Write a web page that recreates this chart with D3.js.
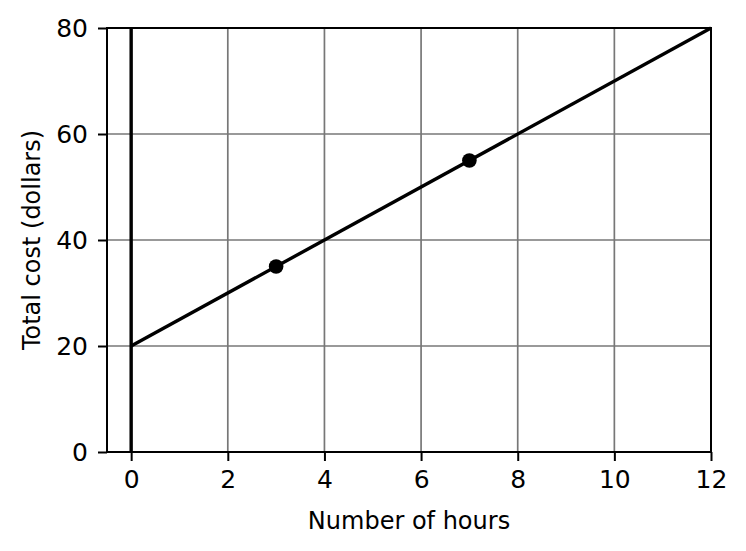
<!DOCTYPE html>
<html>
<head>
<meta charset="utf-8">
<script src="https://cdn.jsdelivr.net/npm/d3@7"></script>
<style>
  body { margin: 0; background: #fff; }
  svg { font-family: "DejaVu Sans", sans-serif; }
</style>
</head>
<body>
<div id="chart"></div>
<script>
// dati del grafico
const lineHours = [0, 12];
const lineCost = [20, 80];
const pointHours = [3, 7];
const pointCost = [35, 55];
const xTicks = [0, 2, 4, 6, 8, 10, 12];
const yTicks = [0, 20, 40, 60, 80];

const width = 746, height = 551;
const margin = { top: 28, right: 35, bottom: 99, left: 107 };

const svg = d3.select("#chart").append("svg")
  .attr("width", width)
  .attr("height", height);

const x = d3.scaleLinear().domain([-0.5, 12]).range([margin.left, width - margin.right]);
const y = d3.scaleLinear().domain([0, 80]).range([height - margin.bottom, margin.top]);

// griglia
const grid = svg.append("g");
grid.selectAll(".gx").data(xTicks).enter().append("line")
  .attr("x1", d => x(d)).attr("x2", d => x(d))
  .attr("y1", y(0)).attr("y2", y(80))
  .attr("stroke", "#777").attr("stroke-width", 1.7);
grid.selectAll(".gy").data(yTicks).enter().append("line")
  .attr("x1", x(-0.5)).attr("x2", x(12))
  .attr("y1", d => y(d)).attr("y2", d => y(d))
  .attr("stroke", "#777").attr("stroke-width", 1.7);

// linea verticale x=0
svg.append("line")
  .attr("x1", x(0)).attr("x2", x(0))
  .attr("y1", y(0)).attr("y2", y(80))
  .attr("stroke", "#000").attr("stroke-width", 3.4);

// retta del costo
const line = d3.line().x(d => x(d[0])).y(d => y(d[1]));
svg.append("path")
  .datum(lineHours.map((h, i) => [h, lineCost[i]]))
  .attr("d", line)
  .attr("fill", "none")
  .attr("stroke", "#000")
  .attr("stroke-width", 3.4);

// punti
svg.selectAll(".pt").data(pointHours).enter().append("circle")
  .attr("cx", d => x(d))
  .attr("cy", (d, i) => y(pointCost[i]))
  .attr("r", 7.3)
  .attr("fill", "#000");

// assi
const xAxis = svg.append("g")
  .attr("transform", `translate(0,${y(0)})`)
  .call(d3.axisBottom(x).tickValues(xTicks).tickSize(9).tickPadding(9));
const yAxis = svg.append("g")
  .attr("transform", `translate(${x(-0.5)},0)`)
  .call(d3.axisLeft(y).tickValues(yTicks).tickSize(9).tickPadding(10));

[xAxis, yAxis].forEach(a => {
  a.select(".domain").remove();
  a.attr("font-size", null).attr("font-family", null);
  a.selectAll(".tick line").attr("stroke", "#000").attr("stroke-width", 2);
  a.selectAll(".tick text").attr("font-size", 25).attr("fill", "#000")
    .attr("font-family", "DejaVu Sans, sans-serif");
});

// cornice
svg.append("rect")
  .attr("x", x(-0.5)).attr("y", y(80))
  .attr("width", x(12) - x(-0.5)).attr("height", y(0) - y(80))
  .attr("fill", "none").attr("stroke", "#000").attr("stroke-width", 2);

// etichette assi
svg.append("text")
  .attr("x", (x(-0.5) + x(12)) / 2)
  .attr("y", 529)
  .attr("text-anchor", "middle")
  .attr("font-size", 24)
  .text("Number of hours");

svg.append("text")
  .attr("transform", `translate(40,${(y(0) + y(80)) / 2}) rotate(-90)`)
  .attr("text-anchor", "middle")
  .attr("font-size", 24)
  .text("Total cost (dollars)");
</script>
</body>
</html>
